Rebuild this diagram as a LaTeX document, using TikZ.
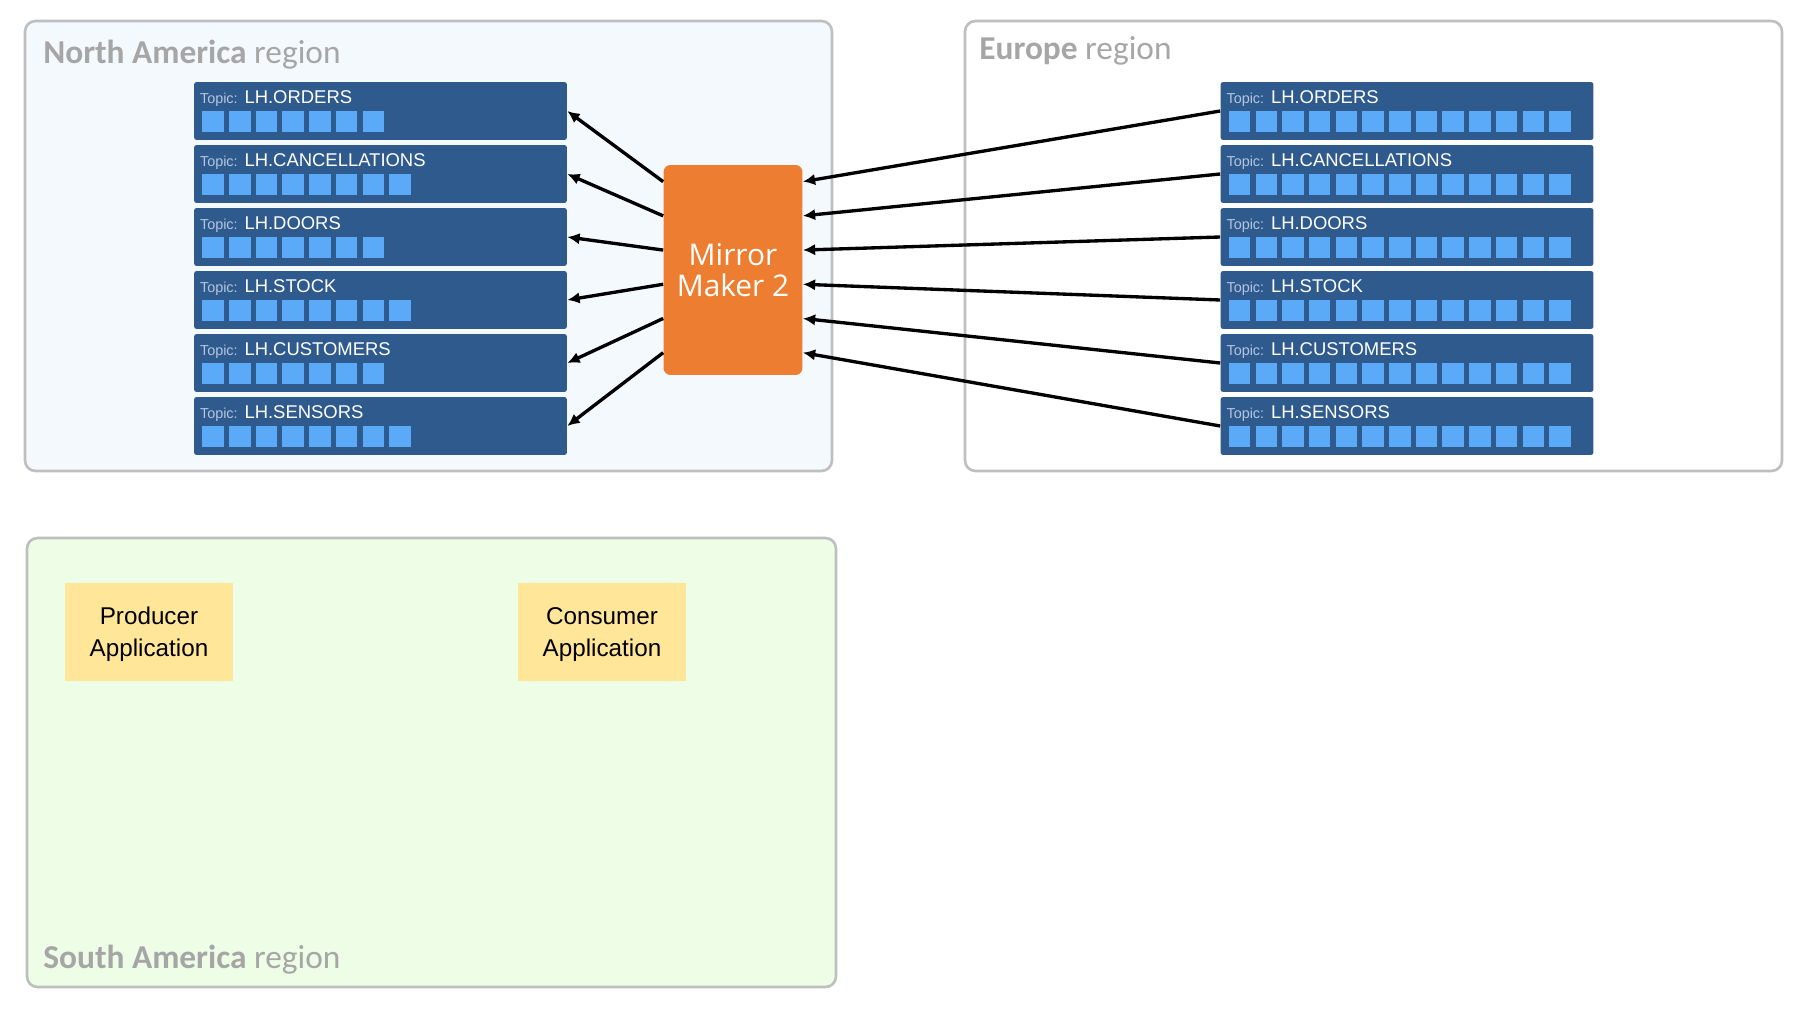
\documentclass[tikz,border=0pt]{standalone}
\usepackage{fontspec}
\setmainfont{Liberation Sans}
\newfontfamily\regfont{Carlito}
\newfontfamily\mmfont{Open Sans}
\usetikzlibrary{arrows.meta,calc}
\definecolor{regborder}{RGB}{191,191,191}
\definecolor{nafill}{RGB}{244,249,254}
\definecolor{safill}{RGB}{238,253,230}
\definecolor{lblgray}{RGB}{166,166,166}
\definecolor{topicblue}{RGB}{47,90,141}
\definecolor{partblue}{RGB}{90,170,248}
\definecolor{topicgray}{RGB}{180,198,225}
\definecolor{mmorange}{RGB}{237,125,49}
\definecolor{appyellow}{RGB}{255,230,153}
\begin{document}
\begin{tikzpicture}[x=0.02cm, y=-0.02cm, region/.style={draw=regborder, line width=1.5pt, rounded corners=6pt}, reglbl/.style={anchor=base west, inner sep=0pt, font=\regfont\fontsize{19}{22}\selectfont, text=lblgray}, topic/.style={fill=topicblue, rounded corners=1.5pt, minimum width=7.46cm, minimum height=1.16cm, inner sep=0pt}, tlbl/.style={anchor=base west, inner sep=0pt, font=\fontsize{10.5}{12}\selectfont, text=white}, part/.style={fill=partblue}, mmbox/.style={fill=mmorange, rounded corners=4pt, minimum width=2.78cm, minimum height=4.2cm, align=center, text=white, font=\mmfont\fontsize{17}{17.5}\selectfont}, arr/.style={-{Latex[length=7pt,width=6.5pt]}, line width=1.9pt, black}, app/.style={fill=appyellow, minimum width=3.36cm, minimum height=1.96cm, align=center, text depth=0pt, font=\fontsize{13.8}{18}\selectfont}]
\useasboundingbox (0,0) rectangle (1800,1013);
\draw[region, fill=nafill] (25,21) rectangle (832,471); \draw[region, fill=white] (965,21) rectangle (1782,471); \draw[region, fill=safill] (27,538) rectangle (836,987);
\node[reglbl] (nalbl) at (43,64) {\textbf{North America} region}; \node[reglbl] (eulbl) at (979,60) {\textbf{Europe} region}; \node[reglbl] (salbl) at (43,968) {\textbf{South America} region};
\foreach \tname/\np [count=\i] in {ORDERS/7, CANCELLATIONS/8, DOORS/7, STOCK/8, CUSTOMERS/7, SENSORS/8} {
  \node[topic] (na\i) at (380.5,{111+63*(\i-1)}) {}; \node[tlbl] (nat\i) at ($(na\i.north west)+(6,22)$) {{\color{topicgray}\fontsize{8.2}{10}\selectfont Topic:} LH.\tname};
  \foreach \k in {1,...,\np} \fill[part] ($(na\i.north west)+({8.7+26.7*(\k-1)},29.7)$) rectangle ++(21.5,20.6);
  \node[topic] (eu\i) at (1407,{111+63*(\i-1)}) {}; \node[tlbl] (eut\i) at ($(eu\i.north west)+(6,22)$) {{\color{topicgray}\fontsize{8.2}{10}\selectfont Topic:} LH.\tname};
  \foreach \k in {1,...,13} \fill[part] ($(eu\i.north west)+({8.7+26.7*(\k-1)},29.7)$) rectangle ++(21.5,20.6);
}
\node[mmbox] (mm) at (733,270) {Mirror\\Maker 2};
\foreach \i in {1,...,6} {\draw[arr] ($(mm.north west)+(0,{17+34.2*(\i-1)})$) -- (na\i.east); \draw[arr] (eu\i.west) -- ($(mm.north east)+(0,{17+34.2*(\i-1)})$);}
\node[app] (prod) at (149,632) {Producer\\Application}; \node[app] (cons) at (602,632) {Consumer\\Application};
\end{tikzpicture}
\end{document}
